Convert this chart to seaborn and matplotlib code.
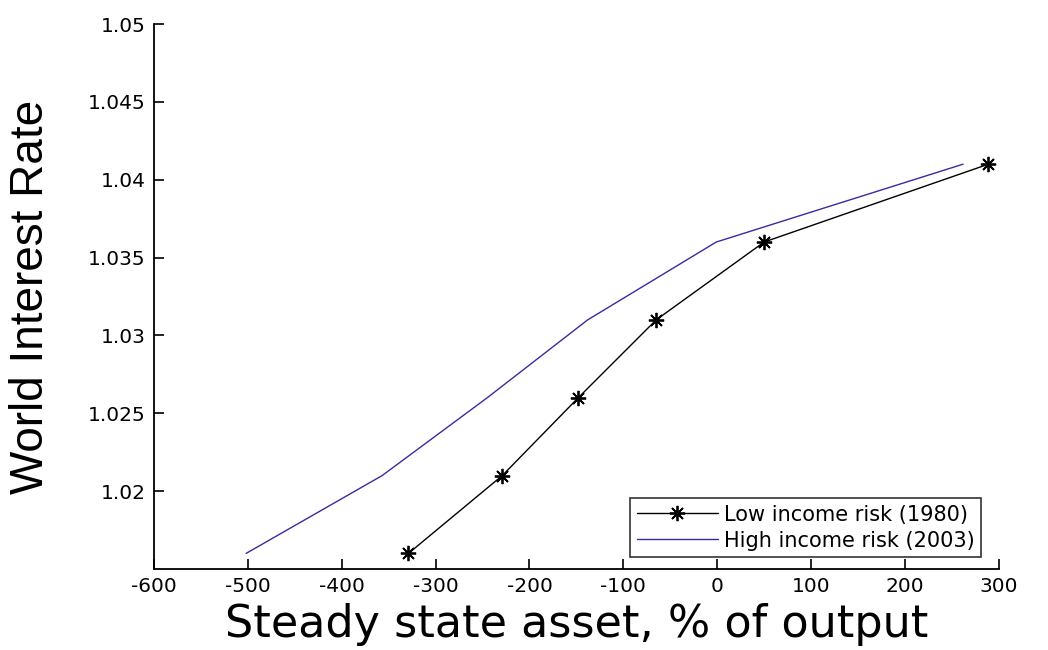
import matplotlib
matplotlib.use("Agg")
import matplotlib.pyplot as plt
import seaborn as sns
import pandas as pd

# Data
low_x = [-329, -229, -148, -65, 50, 289]
low_y = [1.016, 1.021, 1.026, 1.031, 1.036, 1.041]
high_x = [-502, -357, -245, -138, -1, 262]
high_y = [1.016, 1.021, 1.026, 1.031, 1.036, 1.041]
labels = ["Low income risk (1980)", "High income risk (2003)"]
xticks = [-600, -500, -400, -300, -200, -100, 0, 100, 200, 300]
yticks = [1.02, 1.025, 1.03, 1.035, 1.04, 1.045, 1.05]
ytick_labels = ["1.02", "1.025", "1.03", "1.035", "1.04", "1.045", "1.05"]

sns.set_style("ticks")
plt.rcParams['font.family'] = ['DejaVu Sans']
plt.rcParams['text.color'] = 'black'
plt.rcParams['xtick.color'] = 'black'
plt.rcParams['ytick.color'] = 'black'
plt.rcParams['axes.labelcolor'] = 'black'

df = pd.concat([
    pd.DataFrame({"x": low_x, "y": low_y, "series": labels[0]}),
    pd.DataFrame({"x": high_x, "y": high_y, "series": labels[1]}),
])

fig = plt.figure(figsize=(10.48, 6.5), dpi=100)
ax = fig.add_axes([0.147, 0.1246, 0.806, 0.8384])

sns.lineplot(data=df, x="x", y="y", hue="series", style="series",
             palette={labels[0]: "black", labels[1]: "#3a2aa0"},
             markers={labels[0]: (8, 2, 0), labels[1]: ""},
             dashes=False, sort=False, ax=ax, linewidth=1.0,
             markersize=11, markeredgewidth=1.3, markeredgecolor="black")

ax.set_xlim(-600, 300)
ax.set_ylim(1.015, 1.05)
ax.set_xticks(xticks)
ax.set_xticklabels([str(t) for t in xticks])
ax.set_yticks(yticks)
ax.set_yticklabels(ytick_labels)
ax.tick_params(direction="in", length=7, width=1.2, labelsize=14.5, pad=6,
               colors="black")
for s in ["top", "right"]:
    ax.spines[s].set_visible(False)
for s in ["left", "bottom"]:
    ax.spines[s].set_linewidth(1.3)
    ax.spines[s].set_color("black")

ax.set_xlabel("Steady state asset, % of output", fontsize=32, labelpad=5,
              color="black")
ax.set_ylabel("World Interest Rate", fontsize=33, labelpad=25,
              family=["Liberation Sans", "DejaVu Sans"], color="black")

leg = ax.legend(loc="lower right", bbox_to_anchor=(0.979, 0.022), fontsize=15,
                frameon=True, fancybox=False, edgecolor="black",
                borderaxespad=0, handlelength=3.9, borderpad=0.3,
                labelspacing=0.3, handletextpad=0.3)
leg.get_frame().set_linewidth(1.2)
leg.set_title(None)

fig.savefig("out.png", dpi=100)
